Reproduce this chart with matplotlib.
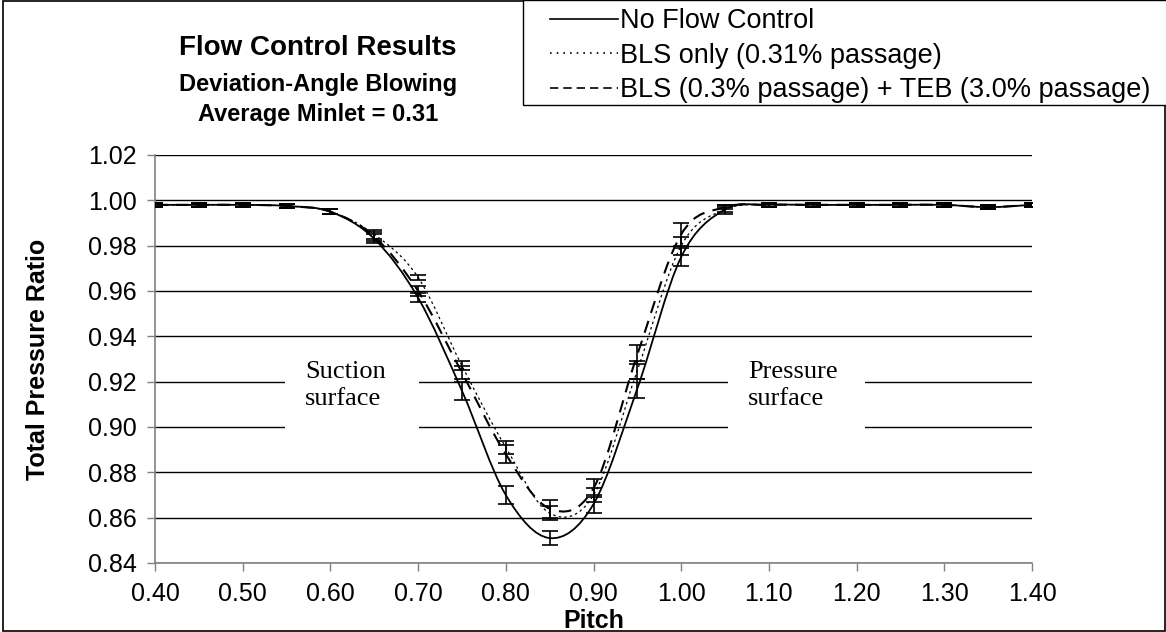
import numpy as np
import matplotlib
matplotlib.use("Agg")
import matplotlib.pyplot as plt
from matplotlib.path import Path
from matplotlib.patches import PathPatch, Rectangle
from matplotlib.lines import Line2D

plt.rcParams["font.family"] = ["Liberation Sans", "DejaVu Sans"]

# Measured total pressure ratio across one blade pitch
pitch = [0.40, 0.45, 0.50, 0.55, 0.60, 0.65, 0.70, 0.75, 0.80, 0.85, 0.90,
         0.95, 1.00, 1.05, 1.10, 1.15, 1.20, 1.25, 1.30, 1.35, 1.40]

no_flow = [0.998, 0.998, 0.998, 0.9975, 0.995, 0.983, 0.957, 0.916, 0.870, 0.851, 0.866,
           0.917, 0.975, 0.996, 0.998, 0.998, 0.998, 0.998, 0.998, 0.997, 0.998]
no_flow_err = [0.0008, 0.0008, 0.0008, 0.0008, 0.001, 0.002, 0.002, 0.004, 0.004, 0.003, 0.004,
               0.004, 0.004, 0.002, 0.0008, 0.0008, 0.0008, 0.0008, 0.0008, 0.001, 0.0008]

bls_only = [0.998, 0.998, 0.998, 0.9975, 0.995, 0.985, 0.966, 0.927, 0.891, 0.862, 0.870,
            0.925, 0.980, 0.996, 0.998, 0.998, 0.998, 0.998, 0.998, 0.997, 0.998]
bls_only_err = [0.0008, 0.0008, 0.0008, 0.0008, 0.001, 0.002, 0.001, 0.002, 0.003, 0.003, 0.003,
                0.004, 0.004, 0.001, 0.0008, 0.0008, 0.0008, 0.0008, 0.0008, 0.001, 0.0008]

bls_teb = [0.998, 0.998, 0.998, 0.9975, 0.995, 0.984, 0.960, 0.924, 0.888, 0.864, 0.873,
           0.932, 0.985, 0.997, 0.998, 0.998, 0.998, 0.998, 0.998, 0.997, 0.998]
bls_teb_err = [0.0008, 0.0008, 0.0008, 0.0008, 0.001, 0.002, 0.002, 0.003, 0.004, 0.004, 0.004,
               0.004, 0.005, 0.001, 0.0008, 0.0008, 0.0008, 0.0008, 0.0008, 0.001, 0.0008]

yticks = [0.84, 0.86, 0.88, 0.90, 0.92, 0.94, 0.96, 0.98, 1.00, 1.02]
xticks = [0.40, 0.50, 0.60, 0.70, 0.80, 0.90, 1.00, 1.10, 1.20, 1.30, 1.40]

W, H = 1166, 632


def smooth_path(x, y):
    # spreadsheet-style smoothed line: cubic bezier through every point
    pts = np.column_stack([np.asarray(x, float), np.asarray(y, float)])
    verts = [pts[0]]
    codes = [Path.MOVETO]
    n = len(pts)
    for i in range(n - 1):
        p0 = pts[max(i - 1, 0)]
        p1 = pts[i]
        p2 = pts[i + 1]
        p3 = pts[min(i + 2, n - 1)]
        verts += [p1 + (p2 - p0) / 6.0, p2 - (p3 - p1) / 6.0, p2]
        codes += [Path.CURVE4] * 3
    return Path(verts, codes)


fig = plt.figure(figsize=(W / 100, H / 100), dpi=100)
ax = fig.add_axes([155 / W, 1 - 563 / H, (1032 - 155) / W, (563 - 155) / H])

series = [
    (no_flow, no_flow_err, "-", 1.3, "No Flow Control"),
    (bls_only, bls_only_err, (0, (2, 2.5)), 0.9, "BLS only (0.31% passage)"),
    (bls_teb, bls_teb_err, (0, (6, 4)), 1.5, "BLS (0.3% passage) + TEB (3.0% passage)"),
]

for vals, err, ls, lw, label in series:
    ax.add_patch(PathPatch(smooth_path(pitch, vals), fill=False, edgecolor="black",
                           linestyle=ls, linewidth=lw, zorder=3))
    ax.errorbar(pitch, vals, yerr=err, fmt="none", ecolor="black",
                elinewidth=1.2, capsize=6, capthick=1.2, zorder=4)

handles = [
    Line2D([], [], color="black", lw=1.2, ls="-"),
    Line2D([], [], color="black", lw=1.2, ls=(0, (1, 3))),
    Line2D([], [], color="black", lw=1.2, ls=(0, (5, 3))),
]

ax.set_xlim(0.40, 1.40)
ax.set_ylim(0.84, 1.02)
ax.set_xticks(xticks)
ax.set_yticks(yticks)
ax.set_xticklabels([f"{t:.2f}" for t in xticks])
ax.set_yticklabels([f"{t:.2f}" for t in yticks])
ax.tick_params(axis="both", labelsize=18, direction="out", length=6,
               color="#808080", width=1)
ax.tick_params(axis="x", pad=8)
ax.tick_params(axis="y", pad=7)
ax.yaxis.grid(True, color="black", lw=1)
ax.set_axisbelow(True)
for side in ["top", "right"]:
    ax.spines[side].set_visible(False)
for side in ["left", "bottom"]:
    ax.spines[side].set_color("#808080")
    ax.spines[side].set_linewidth(1.2)

ax.set_xlabel("Pitch", fontsize=18, fontweight="bold")
ax.set_ylabel("Total Pressure Ratio", fontsize=18, fontweight="bold")
ax.xaxis.set_label_coords(0.5, -(621 - 563) / (563 - 155))
ax.xaxis.label.set_verticalalignment("center")
ax.yaxis.set_label_coords(-(155 - 38) / (1032 - 155), 0.5)
ax.yaxis.label.set_verticalalignment("center")

# surface labels sitting on white boxes that break the grid lines
for x0, x1, tx, txt in [(0.548, 0.701, 0.571, "Suction\nsurface"),
                        (1.053, 1.210, 1.076, "Pressure\nsurface")]:
    ax.add_patch(Rectangle((x0, 0.8985), x1 - x0, 0.0365, facecolor="white",
                           edgecolor="none", zorder=1))
    ax.text(tx, 0.9185, txt, fontsize=19, family="Liberation Serif",
            ha="left", va="center", linespacing=1.3, zorder=2)

fig.text(318 / W, 1 - 48 / H, "Flow Control Results", fontsize=20,
         fontweight="bold", ha="center", va="center")
fig.text(318 / W, 1 - 85 / H, "Deviation-Angle Blowing", fontsize=17,
         fontweight="bold", ha="center", va="center")
fig.text(318 / W, 1 - 115 / H, "Average Minlet = 0.31", fontsize=17,
         fontweight="bold", ha="center", va="center")

# legend box runs off the right edge of the chart
fig.patches.append(Rectangle((523 / W, 1 - 105 / H), 1.0, 105 / H, transform=fig.transFigure,
                             facecolor="white", edgecolor="black", lw=1, zorder=1))
fig.legend(handles, [s[4] for s in series], loc="upper left",
           bbox_to_anchor=(550 / W, 1 - 8 / H), fontsize=19.5, frameon=False,
           borderaxespad=0, borderpad=0, handlelength=2.5, handletextpad=0.1,
           labelspacing=0.32)

# outer chart border
fig.patches.append(Rectangle((0.003, 0.001), 0.996, 0.997, transform=fig.transFigure,
                             fill=False, edgecolor="black", lw=1.2, zorder=0))

fig.savefig("out.png", dpi=100)
